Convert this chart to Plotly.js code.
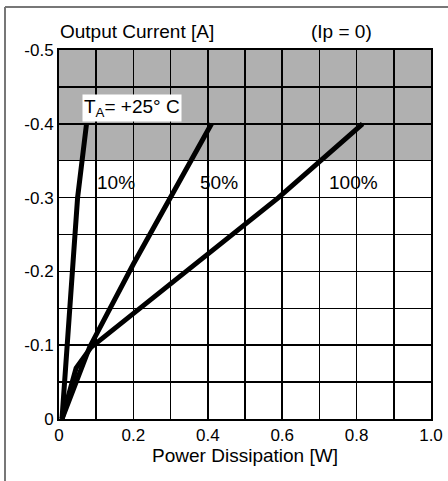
<!DOCTYPE html>
<html><head><meta charset="utf-8">
<script src="https://cdn.plot.ly/plotly-3.0.1.min.js"></script>
<style>body{margin:0;background:#fff}#chart{width:448px;height:481px}</style>
</head><body><div id="chart"></div>
<script>
const x10 = [0.008, 0.037, 0.050, 0.074];
const y10 = [0, -0.215, -0.3, -0.4];
const x50 = [0.008, 0.082, 0.200, 0.300, 0.410];
const y50 = [0, -0.097, -0.21, -0.30, -0.40];
const x100 = [0.008, 0.046, 0.086, 0.341, 0.590, 0.816];
const y100 = [0, -0.069, -0.097, -0.2, -0.3, -0.4];
const xTicks = [0, 0.2, 0.4, 0.6, 0.8, 1.0];
const xTickText = ['0', '0.2', '0.4', '0.6', '0.8', '1.0'];
const yTicks = [0, -0.1, -0.2, -0.3, -0.4, -0.5];
const yTickText = ['0', '-0.1', '-0.2', '-0.3', '-0.4', '-0.5'];
const curveLabels = [{t:'10%', x:0.153, y:-0.321}, {t:'50%', x:0.429, y:-0.321}, {t:'100%', x:0.792, y:-0.321}];

const font = 'Liberation Sans, Arial, sans-serif';
const line = {color:'#000', width:5};
const traces = [
  {x:x10, y:y10, mode:'lines', line:line, hoverinfo:'skip'},
  {x:x50, y:y50, mode:'lines', line:line, hoverinfo:'skip'},
  {x:x100, y:y100, mode:'lines', line:line, hoverinfo:'skip'}
];
const PW = 372, PH = 369;
const annotations = curveLabels.map(c => ({x:c.x, y:c.y, xref:'x', yref:'y', text:c.t, showarrow:false, font:{family:font, size:19, color:'#000'}}));
annotations.push({x:0.196, y:-0.422, xref:'x', yref:'y', text:'T<sub>A</sub>= +25° C', showarrow:false, bgcolor:'#fff', font:{family:font, size:19, color:'#000'}, borderpad:1});
annotations.push({x:-1/PW, y:1+18/PH, xref:'paper', yref:'paper', xanchor:'left', yanchor:'middle', text:'Output Current [A]', showarrow:false, font:{family:font, size:19, color:'#000'}});
annotations.push({x:250/PW, y:1+18/PH, xref:'paper', yref:'paper', xanchor:'left', yanchor:'middle', text:'(Ip = 0)', showarrow:false, font:{family:font, size:19, color:'#000'}});

const layout = {
  width:448, height:481,
  margin:{l:59, r:17, t:50, b:62},
  paper_bgcolor:'#fff', plot_bgcolor:'#fff',
  showlegend:false,
  font:{family:font, color:'#000'},
  xaxis:{range:[0,1], tickvals:xTicks, ticktext:xTickText, showgrid:true, gridcolor:'#000', gridwidth:1.5,
    minor:{dtick:0.1, showgrid:true, gridcolor:'#000', gridwidth:1.5}, zeroline:false,
    showline:true, linecolor:'#000', linewidth:2, mirror:true, ticks:'', tickfont:{size:17, family:font},
    title:{text:'Power Dissipation [W]', font:{size:19, family:font}, standoff:4}},
  yaxis:{range:[0,-0.5], tickvals:yTicks, ticktext:yTickText, showgrid:true, gridcolor:'#000', gridwidth:1.5,
    minor:{dtick:0.05, showgrid:true, gridcolor:'#000', gridwidth:1.5}, zeroline:false,
    showline:true, linecolor:'#000', linewidth:2, mirror:true, ticks:'', tickfont:{size:17, family:font}},
  shapes:[
    {type:'rect', xref:'x', yref:'y', x0:0, x1:1, y0:-0.35, y1:-0.5, fillcolor:'#b0b0b0', line:{width:0}, layer:'below'},
    {type:'line', xref:'paper', yref:'paper', x0:-54/PW, x1:-54/PW, y0:-62/PH, y1:1+43/PH, line:{color:'#777', width:2}},
    {type:'line', xref:'paper', yref:'paper', x0:-54/PW, x1:1+17/PW, y0:1+43/PH, y1:1+43/PH, line:{color:'#777', width:2}}
  ],
  annotations:annotations
};
Plotly.newPlot('chart', traces, layout, {staticPlot:true});
</script></body></html>
